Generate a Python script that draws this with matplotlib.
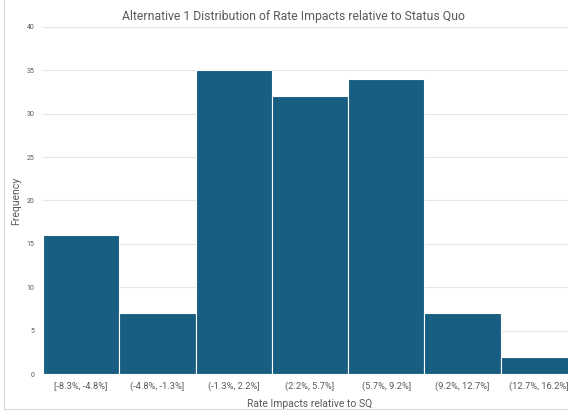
import matplotlib.pyplot as plt
from matplotlib.patches import Rectangle

# histogram bins and counts
bin_labels = ["[-8.3%, -4.8%]", "(-4.8%, -1.3%]", "(-1.3%, 2.2%]", "(2.2%, 5.7%]",
              "(5.7%, 9.2%]", "(9.2%, 12.7%]", "(12.7%, 16.2%]"]
counts = [16, 7, 35, 32, 34, 7, 2]
y_ticks = [0, 5, 10, 15, 20, 25, 30, 35, 40]

plt.rcParams['font.family'] = ['Roboto', 'DejaVu Sans']

fig = plt.figure(figsize=(5.68, 4.11), dpi=100)
# chart frame (left edge visible)
fig.patches.append(Rectangle((4 / 568, 2 / 411), 1.2, 1.2, transform=fig.transFigure,
                             fill=False, edgecolor='#d9d9d9', linewidth=0.8))

ax = fig.add_axes([43 / 568, 37 / 411, 534 / 568, 347 / 411])
x = range(len(counts))
ax.bar(x, counts, width=1.0, align='edge', color='#175e82', edgecolor='white', linewidth=0.8, zorder=3)
ax.set_xlim(0, len(counts))
ax.set_ylim(0, 40)
ax.set_yticks(y_ticks)
ax.set_yticklabels([str(v) for v in y_ticks], fontsize=5, color='#595959')
ax.set_xticks([i + 0.5 for i in x])
ax.set_xticklabels(bin_labels, fontsize=6.7, color='#595959')
ax.tick_params(axis='y', length=0, pad=6)
ax.tick_params(axis='x', length=0, pad=5)
ax.grid(axis='y', color='#e6e6e6', linewidth=0.8, zorder=0)
for s in ax.spines.values():
    s.set_visible(False)
ax.axhline(0, color='#d9d9d9', linewidth=0.8, zorder=2)

ax.set_ylabel("Frequency", fontsize=7.5, color='#595959', labelpad=4)
ax.set_xlabel("Rate Impacts relative to SQ", fontsize=7.5, color='#595959', labelpad=6)
fig.text(0.517, 0.975, "Alternative 1 Distribution of Rate Impacts relative to Status Quo",
         ha='center', va='top', fontsize=8.8, color='#595959')

fig.savefig("out.png", dpi=100)
